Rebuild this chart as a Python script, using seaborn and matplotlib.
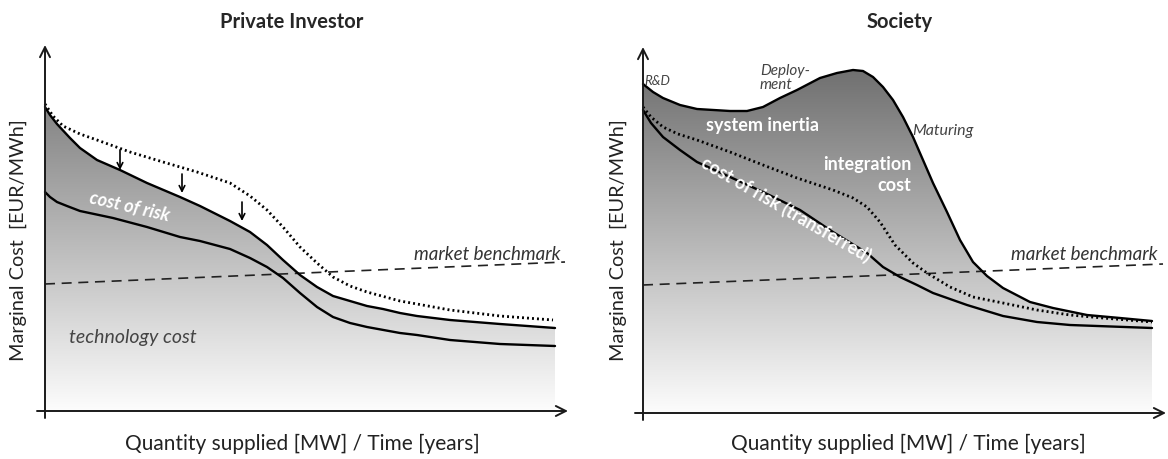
import numpy as np
import matplotlib
matplotlib.use("Agg")
import matplotlib.pyplot as plt
import seaborn as sns
from matplotlib.colors import LinearSegmentedColormap

# Conceptual chart: arbitrary units (quantity / cost index)
# --- Private investor ---
pi_x_total = [0, 5, 12, 25, 35, 52, 75, 102, 135, 155, 185, 205, 222, 238, 255, 272, 288, 305, 322, 338, 355, 372, 405, 455, 510]
pi_y_total = [304, 296, 287, 273, 263, 251, 241, 228, 214, 205, 190, 179, 166, 151, 136, 124, 115, 110, 105, 102, 98, 95, 91, 87, 83]

pi_x_tech = [0, 5, 12, 22, 35, 68, 102, 135, 155, 185, 205, 222, 238, 255, 272, 288, 305, 322, 355, 372, 405, 455, 510]
pi_y_tech = [219, 214, 209, 205, 200, 193, 184, 174, 170, 162, 153, 144, 133, 118, 104, 94, 88, 84, 78, 76, 71, 67, 65]

pi_x_before = [0, 8, 18, 35, 52, 85, 118, 152, 185, 205, 222, 238, 255, 272, 288, 305, 322, 355, 372, 405, 455, 508]
pi_y_before = [307, 295, 285, 277, 271, 259, 249, 239, 228, 215, 201, 184, 164, 148, 134, 125, 119, 110, 107, 101, 95, 91]

pi_x_bench = [0, 520]
pi_y_bench = [127, 149]

pi_arrow_x = [75, 137, 197]
pi_arrow_top = [261, 237, 209]
pi_arrow_tip = [241, 218, 190]

# --- Society ---
so_x_total = [0, 10, 20, 37, 54, 87, 104, 120, 137, 154, 177, 194, 210, 220, 230, 240, 250, 260, 270, 280, 290, 304, 317, 330, 344, 360, 387, 410, 444, 477, 509]
so_y_total = [329, 321, 315, 308, 304, 302, 302, 306, 315, 323, 335, 340, 343, 342, 336, 326, 313, 296, 276, 253, 230, 201, 173, 151, 137, 125, 111, 105, 98, 95, 92]

so_x_risk = [0, 8, 20, 35, 54, 87, 120, 154, 190, 210, 224, 237, 252, 270, 284, 307, 330, 360, 394, 427, 460, 509]
so_y_risk = [306, 296, 286, 279, 273, 261, 248, 235, 223, 215, 206, 191, 168, 150, 140, 126, 116, 110, 103, 98, 95, 91]

so_x_tech = [0, 8, 20, 37, 54, 87, 120, 157, 190, 224, 240, 257, 274, 290, 324, 360, 394, 427, 509]
so_y_tech = [303, 290, 276, 263, 251, 236, 221, 203, 181, 160, 146, 136, 128, 120, 108, 97, 91, 88, 85]

so_x_bench = [0, 520]
so_y_bench = [128, 149]

W, H = 1168, 459
sns.set_theme(style="white")
plt.rcParams["font.family"] = ["Lato", "DejaVu Sans"]

fig = plt.figure(figsize=(W / 100, H / 100), dpi=100)
ax1 = fig.add_axes([35 / W, (H - 421) / H, 540 / W, 385 / H])
ax2 = fig.add_axes([633 / W, (H - 423) / H, 535 / W, 385 / H])

grad = np.linspace(0, 1, 256).reshape(-1, 1)


def gradient_fill(ax, x, y, top_grey):
    cmap = LinearSegmentedColormap.from_list("g", [(0.99, 0.99, 0.99), (top_grey, top_grey, top_grey)])
    poly = ax.fill_between(x, 0, y, facecolor="none", edgecolor="none")
    im = ax.imshow(grad, extent=[0, max(x), 0, max(y)], origin="lower", aspect="auto",
                   cmap=cmap, zorder=0)
    im.set_clip_path(poly.get_paths()[0], ax.transData)


def axes_arrows(ax):
    arrow = dict(arrowstyle="->", lw=1.4, color="#1a1a1a", shrinkA=0, shrinkB=0, mutation_scale=18)
    ax.annotate("", xy=(523, 0), xytext=(-8, 0), arrowprops=arrow)
    ax.annotate("", xy=(0, 366), xytext=(0, -7), arrowprops=arrow)


solid = dict(color="black", lw=1.7, estimator=None, sort=False)
dotted = dict(color="black", lw=2.0, linestyle=(0, (0.7, 1.1)), estimator=None, sort=False)
dashed = dict(color="#222222", lw=1.2, linestyle=(0, (6, 4)), estimator=None, sort=False)
note = dict(color="#444444", style="italic")

# Private investor panel
gradient_fill(ax1, pi_x_total, pi_y_total, 0.52)
sns.lineplot(x=pi_x_bench, y=pi_y_bench, ax=ax1, **dashed)
sns.lineplot(x=pi_x_before, y=pi_y_before, ax=ax1, **dotted)
sns.lineplot(x=pi_x_total, y=pi_y_total, ax=ax1, **solid)
sns.lineplot(x=pi_x_tech, y=pi_y_tech, ax=ax1, **solid)
for ax_x, y0, y1 in zip(pi_arrow_x, pi_arrow_top, pi_arrow_tip):
    ax1.annotate("", xy=(ax_x, y1), xytext=(ax_x, y0),
                 arrowprops=dict(arrowstyle="->", lw=1.2, color="black", shrinkA=0, shrinkB=0, mutation_scale=10))
axes_arrows(ax1)
ax1.text(85, 204, "cost of risk", color="white", style="italic", fontweight="bold", fontsize=13,
         rotation=-13, ha="center", va="center")
ax1.text(88, 73, "technology cost", fontsize=14, ha="center", va="center", **note)
ax1.text(442, 148, "market benchmark", color="#333333", style="italic", fontsize=13.5, ha="center", va="bottom")
ax1.set_xlim(-10, 530)
ax1.set_ylim(-10, 375)

# Society panel
gradient_fill(ax2, so_x_total, so_y_total, 0.44)
sns.lineplot(x=so_x_bench, y=so_y_bench, ax=ax2, **dashed)
sns.lineplot(x=so_x_risk, y=so_y_risk, ax=ax2, **dotted)
sns.lineplot(x=so_x_total, y=so_y_total, ax=ax2, **solid)
sns.lineplot(x=so_x_tech, y=so_y_tech, ax=ax2, **solid)
axes_arrows(ax2)
ax2.text(1, 332, "R&D", fontsize=9.5, ha="left", va="center", **note)
ax2.text(117, 335, "Deploy-\nment", fontsize=11, ha="left", va="center", linespacing=1.05, **note)
ax2.text(269, 282, "Maturing", fontsize=11.5, ha="left", va="center", **note)
ax2.text(120, 288, "system inertia", color="white", fontweight="bold", fontsize=13, ha="center", va="center")
ax2.text(268, 238, "integration\ncost", color="white", fontweight="bold", fontsize=13, ha="right",
         va="center", multialignment="right", linespacing=1.35)
ax2.text(143, 204, "cost of risk (transferred)", color="white", fontweight="bold", fontsize=13,
         rotation=-30, ha="center", va="center")
ax2.text(441, 150, "market benchmark", color="#333333", style="italic", fontsize=13.5, ha="center", va="bottom")
ax2.set_xlim(-10, 525)
ax2.set_ylim(-10, 375)

for ax in (ax1, ax2):
    ax.axis("off")

# Titles and axis labels
fig.text(292 / W, 1 - 22 / H, "Private Investor", fontsize=14.5, fontweight="bold", ha="center", va="center")
fig.text(900 / W, 1 - 22 / H, "Society", fontsize=14.5, fontweight="bold", ha="center", va="center")
for cx in (302, 908):
    fig.text(cx / W, 1 - 444 / H, "Quantity supplied [MW] / Time [years]", fontsize=15,
             color="#222222", ha="center", va="center")
for cx in (18, 618):
    fig.text(cx / W, 1 - 240 / H, "Marginal Cost  [EUR/MWh]", fontsize=14.3, color="#222222",
             rotation=90, ha="center", va="center")

fig.savefig("out.png", dpi=100, facecolor="white")
